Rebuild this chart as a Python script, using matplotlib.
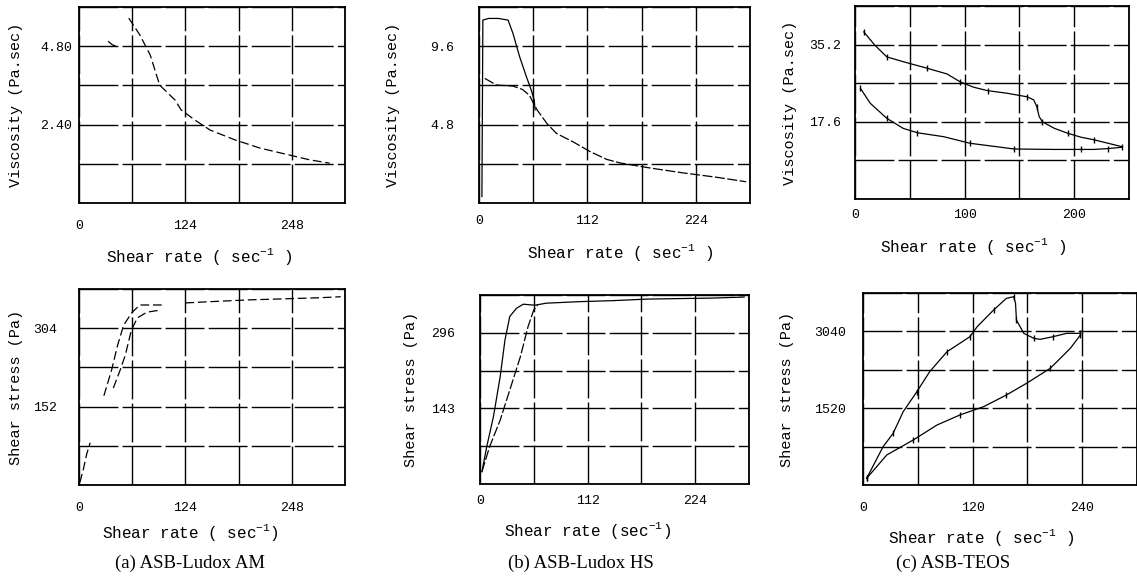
import matplotlib
matplotlib.use("Agg")
import matplotlib.pyplot as plt

plt.rcParams['font.family'] = ['Liberation Mono', 'DejaVu Sans Mono']
plt.rcParams['mathtext.fontset'] = 'custom'
plt.rcParams['mathtext.rm'] = 'Liberation Mono'
plt.rcParams['mathtext.it'] = 'Liberation Mono'

# (a) ASB-Ludox AM, viscosity
a_vis1_x = [58, 71, 83, 94, 112, 119, 135, 153, 182, 211, 245, 269, 292]
a_vis1_y = [5.66, 5.14, 4.53, 3.61, 3.15, 2.85, 2.54, 2.23, 1.93, 1.68, 1.47, 1.32, 1.22]
a_vis2_x = [34, 39, 44]
a_vis2_y = [4.95, 4.84, 4.80]

# (a) shear stress
a_str0_x = [1, 5, 9, 13]
a_str0_y = [5, 30, 60, 82]
a_str1_x = [29, 38, 45, 52, 62, 71, 98]
a_str1_y = [173, 223, 271, 310, 335, 349, 349]
a_str2_x = [40, 48, 54, 61, 68, 79, 94]
a_str2_y = [188, 223, 252, 300, 324, 335, 339]
a_str3_x = [124, 160, 200, 240, 280, 305]
a_str3_y = [353, 356, 359, 361, 363, 365]

# (b) ASB-Ludox HS, viscosity
b_vis1_x = [3, 4, 10, 20, 30, 35, 42, 49, 54, 57, 58]
b_vis1_y = [0.4, 11.2, 11.3, 11.3, 11.2, 10.4, 8.95, 7.73, 6.91, 6.3, 5.7]
b_vis2_x = [6, 18, 35, 45, 52, 60, 70, 80, 97, 115, 132, 146, 176, 210, 245, 276]
b_vis2_y = [7.63, 7.22, 7.16, 6.95, 6.6, 5.7, 4.88, 4.26, 3.75, 3.14, 2.67, 2.45, 2.15, 1.85, 1.58, 1.30]

# (b) shear stress
b_str1_x = [2, 7, 14, 21, 26, 31, 38, 45, 57, 69, 104, 139, 174, 208, 243, 275]
b_str1_y = [24, 73, 132, 210, 282, 328, 344, 352, 350, 354, 357, 359, 362, 363, 364, 366]
b_str2_x = [2, 10, 21, 31, 42, 50, 56, 60]
b_str2_y = [24, 73, 125, 184, 249, 308, 341, 350]

# (c) ASB-TEOS, viscosity
c_vis1_x = [8, 18, 29, 44, 66, 84, 96, 108, 121, 139, 157, 163, 166, 168, 171, 182, 194, 206, 218, 231, 244]
c_vis1_y = [38.1, 35.1, 32.4, 31.3, 29.8, 28.5, 26.7, 25.5, 24.7, 24.1, 23.3, 22.6, 21.0, 18.8, 17.6,
            16.1, 15.0, 14.1, 13.5, 12.7, 11.9]
c_vis2_x = [5, 14, 29, 44, 57, 81, 105, 133, 145, 182, 206, 218, 231, 244]
c_vis2_y = [25.2, 21.8, 18.4, 16.1, 15.1, 14.2, 12.7, 11.8, 11.4, 11.3, 11.3, 11.3, 11.5, 11.8]

# (c) shear stress
c_str1_x = [4, 22, 33, 44, 59, 73, 92, 106, 117, 125, 143, 157, 165, 167, 168, 176, 187, 194, 208, 223, 238]
c_str1_y = [132, 758, 1023, 1451, 1847, 2243, 2638, 2804, 2935, 3133, 3463, 3694, 3727, 3596, 3265,
            3002, 2903, 2883, 2935, 3002, 3002]
c_str2_x = [4, 26, 55, 81, 106, 132, 157, 179, 205, 227, 238]
c_str2_y = [132, 594, 891, 1187, 1385, 1550, 1781, 2012, 2309, 2705, 2968]

W, H = 1137, 580
fig = plt.figure(figsize=(W / 100, H / 100), dpi=100)


def box(l, r, t, b):
    return [l / W, 1 - b / H, (r - l) / W, (b - t) / H]


def setup(ax, xmax, xstep, xlab, ymax, ystep, ylab, xlabel, ylabel, xlc, ylc, xpad, ypad):
    ax.set_xlim(0, xmax)
    ax.set_ylim(0, ymax)
    xt = [xstep * i for i in range(round(xmax / xstep) + 1)]
    yt = [ystep * i for i in range(round(ymax / ystep) + 1)]
    ax.set_xticks(xt)
    ax.set_xticklabels([xlab.get(i, '') for i in range(len(xt))])
    ax.set_yticks(yt)
    ax.set_yticklabels([ylab.get(i, '') for i in range(len(yt))])
    ax.tick_params(length=0, labelsize=9.5)
    ax.tick_params(axis='x', pad=xpad)
    ax.tick_params(axis='y', pad=ypad)
    ax.grid(True, color='black', lw=1.0, ls=(0, (28, 3)))
    for s in ax.spines.values():
        s.set_linewidth(1.3)
    ax.set_xlabel(xlabel, fontsize=11.5)
    ax.set_ylabel(ylabel, fontsize=11)
    ax.xaxis.set_label_coords(*xlc)
    ax.yaxis.set_label_coords(*ylc)


ln = dict(color='black', lw=0.9)

# (a) top
ax = fig.add_axes(box(79, 345, 7, 203))
ax.plot(a_vis1_x, a_vis1_y, ls=(0, (7, 3)), **ln)
ax.plot(a_vis2_x, a_vis2_y, ls=(0, (7, 3)), **ln)
setup(ax, 310, 62, {0: '0', 2: '124', 4: '248'}, 6.0, 1.2, {2: '2.40', 4: '4.80'},
      'Shear rate ( sec$^{-1}$ )', 'Viscosity (Pa.sec)', (0.45, -0.22), (-0.21, 0.5), 12, 5)

# (a) bottom
ax = fig.add_axes(box(79, 345, 289, 485))
ax.plot(a_str0_x, a_str0_y, ls=(0, (7, 3)), **ln)
ax.plot(a_str1_x, a_str1_y, ls=(0, (7, 3)), **ln)
ax.plot(a_str2_x, a_str2_y, ls=(0, (7, 3)), **ln)
ax.plot(a_str3_x, a_str3_y, ls=(0, (7, 3)), **ln)
setup(ax, 310, 62, {0: '0', 2: '124', 4: '248'}, 380, 76, {2: '152', 4: '304'},
      'Shear rate ( sec$^{-1}$)', 'Shear stress (Pa)', (0.42, -0.19), (-0.21, 0.5), 12, 16)

# (b) top
ax = fig.add_axes(box(479, 750, 7, 203))
ax.plot(b_vis1_x, b_vis1_y, **ln)
ax.plot(b_vis2_x, b_vis2_y, ls=(0, (8, 2)), **ln)
setup(ax, 280, 56, {0: '0', 2: '112', 4: '224'}, 12.0, 2.4, {2: '4.8', 4: '9.6'},
      'Shear rate ( sec$^{-1}$ )', 'Viscosity (Pa.sec)', (0.52, -0.2), (-0.29, 0.5), 9, 18)

# (b) bottom
ax = fig.add_axes(box(480, 749, 295, 484))
ax.plot(b_str1_x, b_str1_y, **ln)
ax.plot(b_str2_x, b_str2_y, ls=(0, (8, 2)), **ln)
setup(ax, 280, 56, {0: '0', 2: '112', 4: '224'}, 370, 74, {2: '143', 4: '296'},
      'Shear rate (sec$^{-1}$)', 'Shear stress (Pa)', (0.40, -0.19), (-0.23, 0.5), 8, 18)

# (c) top
mk = dict(marker='|', markersize=4, markevery=2)
ax = fig.add_axes(box(855, 1129, 6, 199))
ax.plot(c_vis1_x, c_vis1_y, **mk, **ln)
ax.plot(c_vis2_x, c_vis2_y, **mk, **ln)
setup(ax, 250, 50, {0: '0', 2: '100', 4: '200'}, 44.0, 8.8, {2: '17.6', 4: '35.2'},
      'Shear rate ( sec$^{-1}$ )', 'Viscosity (Pa.sec)', (0.43, -0.19), (-0.21, 0.5), 7, 10)

# (c) bottom
ax = fig.add_axes(box(863, 1137, 293, 485))
ax.plot(c_str1_x, c_str1_y, **mk, **ln)
ax.plot(c_str2_x, c_str2_y, **mk, **ln)
setup(ax, 300, 60, {0: '0', 2: '120', 4: '240'}, 3800, 760, {2: '1520', 4: '3040'},
      'Shear rate ( sec$^{-1}$ )', 'Shear stress (Pa)', (0.43, -0.22), (-0.25, 0.5), 12, 12)

for cx, txt in [(190, '(a) ASB-Ludox AM'), (581, '(b) ASB-Ludox HS'), (953, '(c) ASB-TEOS')]:
    fig.text(cx / W, 1 - 563 / H, txt, ha='center', va='center',
             family=['Liberation Serif', 'DejaVu Serif'], fontsize=13.5)

fig.savefig('out.png', dpi=100)
